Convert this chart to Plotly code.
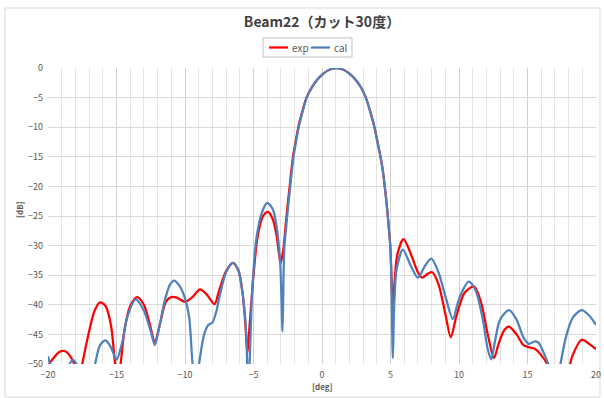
import plotly.graph_objects as go

# ---- data ----
deg_cal = [-20.0, -19.8, -19.5, -19.0, -18.6, -18.2, -17.8, -17.4, -17.0, -16.6, -16.2, -15.8, -15.4, -15.0,
           -14.6, -14.2, -13.6, -13.0, -12.5, -12.2, -11.9, -11.5, -11.1, -10.8, -10.4, -10.0, -9.7, -9.45,
           -9.2, -8.97, -8.6, -8.3, -8.0, -7.7, -7.45, -7.0, -6.5, -6.1, -5.8, -5.55, -5.4, -5.3, -5.1,
           -4.8, -4.4, -4.0, -3.6, -3.3, -3.05, -2.88, -2.8,
           -2.74, -2.64, -2.54, -2.43, -2.32, -2.08, -1.9, -1.7, -1.4, -1.12, -0.75, -0.35, 0.05, 0.45, 0.85,
           1.05, 1.25, 1.65, 2.05, 2.45, 2.85, 3.2, 3.5, 3.83, 4.05, 4.27, 4.45, 4.58, 4.7, 4.8, 4.98,
           5.07, 5.17, 5.27,
           5.45, 5.9, 6.5, 7.0, 7.5, 7.98, 8.5, 9.0, 9.55, 10.0, 10.7, 11.2, 11.7, 12.1, 12.35, 12.6,
           13.0, 13.65, 14.2, 14.7, 15.1, 15.5, 15.8, 16.2, 16.6, 17.0, 17.35, 17.8, 18.3, 18.95, 19.5, 20.0]
db_cal = [-48.7, -50.5, -53.0, -54.0, -51.0, -49.3, -50.5, -54.0, -56.0, -50.5, -46.8, -46.0, -47.2, -49.3,
          -46.5, -42.0, -39.1, -41.0, -44.5, -46.8, -44.0, -39.5, -36.6, -35.9, -36.8, -38.9, -42.0, -50.0,
          -55.0, -50.0, -45.0, -43.4, -43.0, -41.0, -38.3, -34.5, -32.9, -34.2, -38.0, -44.0, -53.0, -50.5, -38.0,
          -29.0, -24.5, -22.8, -23.8, -27.0, -33.0, -44.5, -34.0,
          -30.0, -27.5, -25.0, -22.5, -20.0, -15.0, -12.5, -10.0, -7.2, -5.0, -3.3, -2.0, -1.05, -0.4, -0.05,
          0.0, -0.05, -0.4, -1.05, -2.0, -3.3, -5.0, -7.2, -10.0, -12.5, -15.0, -17.5, -20.0, -22.5, -25.0, -30.0,
          -36.0, -49.0, -40.0,
          -34.0, -30.7, -33.5, -35.4, -33.5, -32.2, -34.5, -38.5, -42.4, -39.0, -36.1, -37.5, -42.0, -47.5, -49.2, -46.5,
          -42.5, -40.9, -42.5, -45.5, -46.6, -46.2, -46.4, -48.2, -50.5, -53.0, -50.5, -45.5, -42.2, -40.9, -41.8, -43.4]

deg_exp = [-20.0, -19.6, -19.2, -18.8, -18.4, -18.0, -17.75, -17.5, -17.0, -16.6, -16.2, -15.8, -15.4, -15.1,
           -14.9, -14.7, -14.4, -14.0, -13.5, -13.0, -12.6, -12.2, -11.8, -11.4, -11.0, -10.6, -10.0, -9.5,
           -8.9, -8.4, -7.85, -7.5, -7.0, -6.5, -6.1, -5.8, -5.6, -5.45, -5.3, -5.0, -4.7, -4.3, -3.95,
           -3.6, -3.3, -3.03, -2.88,
           -2.79, -2.69, -2.59, -2.48, -2.36, -2.12, -1.93, -1.73, -1.42, -1.13, -0.75, -0.35, 0.05, 0.45, 0.85,
           1.05, 1.25, 1.65, 2.05, 2.45, 2.85, 3.2, 3.5, 3.83, 4.05, 4.27, 4.45, 4.58, 4.7, 4.8, 4.98,
           5.07, 5.15, 5.3,
           5.5, 5.95, 6.5, 7.0, 7.3, 7.7, 8.05, 8.5, 9.0, 9.4, 9.8, 10.4, 11.1, 11.6, 12.1, 12.55, 12.9,
           13.3, 13.65, 14.2, 14.7, 15.15, 15.5, 16.0, 16.5, 17.0, 17.5, 18.0, 18.3, 18.95, 19.5, 20.0]
db_exp = [-50.3, -49.0, -48.0, -47.8, -48.6, -50.5, -53.0, -50.0, -44.5, -41.0, -39.6, -40.2, -43.5, -50.0,
          -53.0, -50.0, -44.0, -40.2, -38.7, -40.0, -43.0, -46.2, -43.0, -39.5, -38.7, -38.8, -39.5, -38.8,
          -37.4, -38.3, -39.9, -37.5, -34.3, -32.9, -34.2, -38.0, -43.0, -48.2, -44.0, -35.0, -28.5, -25.0, -24.3,
          -25.5, -28.5, -33.0, -31.5,
          -30.0, -27.5, -25.0, -22.5, -20.0, -15.0, -12.5, -10.0, -7.2, -5.0, -3.3, -2.0, -1.05, -0.4, -0.05,
          0.0, -0.05, -0.4, -1.05, -2.0, -3.3, -5.0, -7.2, -10.0, -12.5, -15.0, -17.5, -20.0, -22.5, -25.0, -30.0,
          -35.0, -40.3, -36.0,
          -31.5, -28.9, -31.5, -34.5, -35.4, -34.8, -34.5, -36.5, -41.5, -45.5, -42.0, -38.0, -36.9, -39.5, -45.0, -49.0, -46.5,
          -44.3, -43.7, -45.0, -46.8, -47.2, -47.4, -48.5, -50.3, -54.0, -55.0, -51.0, -48.5, -45.9, -46.6, -47.5]

series_names = ["exp", "cal"]
series_colors = ["#ff0000", "#4f81bd"]

x_ticks = [-20, -15, -10, -5, 0, 5, 10, 15, 20]
y_ticks = [0, -5, -10, -15, -20, -25, -30, -35, -40, -45, -50]

title_text = "Beam22（カット30度）"
x_title = "[deg]"
y_title = "[dB]"

# ---- figure ----
FONT = "Noto Sans CJK JP, sans-serif"
L, R, T, B = 48, 8, 68, 34
W, H = 604, 398
pw, ph = W - L - R, H - T - B

def px(x):
    return (x - L) / pw

def py(y):
    return (H - B - y) / ph

fig = go.Figure()
fig.add_trace(go.Scatter(x=deg_exp, y=db_exp, name=series_names[0], mode="lines",
                         line=dict(color=series_colors[0], width=2.25, shape="spline", smoothing=0.8)))
fig.add_trace(go.Scatter(x=deg_cal, y=db_cal, name=series_names[1], mode="lines",
                         line=dict(color=series_colors[1], width=2.25, shape="spline", smoothing=0.8)))

# compact Excel-like legend drawn with shapes and text
legend_shapes = [dict(type="rect", xref="paper", yref="paper",
                      x0=px(263), x1=px(352), y0=py(57), y1=py(38),
                      line=dict(color="#bfbfbf", width=1), fillcolor="white", layer="above")]
legend_texts = []
for i, (nm, col) in enumerate(zip(series_names, series_colors)):
    x0 = 269 + i * 42
    legend_shapes.append(dict(type="line", xref="paper", yref="paper",
                              x0=px(x0), x1=px(x0 + 19), y0=py(47.5), y1=py(47.5),
                              line=dict(color=col, width=2.25), layer="above"))
    legend_texts.append(dict(text=nm, xref="paper", yref="paper", x=px(x0 + 21), y=py(47.5),
                             showarrow=False, xanchor="left", yanchor="middle",
                             font=dict(family=FONT, size=10, color="#595959")))

fig.update_layout(
    width=W, height=H,
    margin=dict(l=L, r=R, t=T, b=B, autoexpand=False),
    paper_bgcolor="white", plot_bgcolor="white",
    font=dict(family=FONT, size=9, color="#595959"),
    title=dict(text="<b>" + title_text + "</b>", x=322 / W, xanchor="center",
               y=1 - 22 / H, yanchor="middle",
               font=dict(family=FONT, size=14, color="#404040")),
    showlegend=False,
    xaxis=dict(range=[-20, 20], tickvals=x_ticks, showgrid=True, gridcolor="#cfcfcf", gridwidth=1,
               minor=dict(dtick=1, tick0=0, showgrid=True, gridcolor="#e4e4e4", gridwidth=1),
               zeroline=False, showline=False, ticks="", automargin=False, ticklabelstandoff=4,
               tickfont=dict(size=9, color="#595959")),
    yaxis=dict(range=[-50, 0], tickvals=y_ticks, showgrid=True, gridcolor="#d9d9d9", gridwidth=1,
               zeroline=False, showline=False, ticks="", automargin=False, ticklabelstandoff=4,
               tickfont=dict(size=9, color="#595959")),
    shapes=[dict(type="rect", xref="paper", yref="paper",
                 x0=px(5), x1=px(600), y0=py(397), y1=py(8),
                 line=dict(color="#d9d9d9", width=1), fillcolor="rgba(0,0,0,0)", layer="below")]
           + legend_shapes,
    annotations=[
        dict(text="<b>" + y_title + "</b>", xref="paper", yref="paper", x=px(19), y=py(210),
             textangle=-90, showarrow=False, xanchor="center", yanchor="middle",
             font=dict(family=FONT, size=8, color="#595959")),
        dict(text="<b>" + x_title + "</b>", xref="paper", yref="paper", x=px(322), y=py(386),
             showarrow=False, xanchor="center", yanchor="middle",
             font=dict(family=FONT, size=8, color="#595959")),
    ] + legend_texts,
)

fig.write_html("out.html", config={"displayModeBar": False},
               post_script="document.body.style.margin='0';document.body.style.overflow='hidden';")
